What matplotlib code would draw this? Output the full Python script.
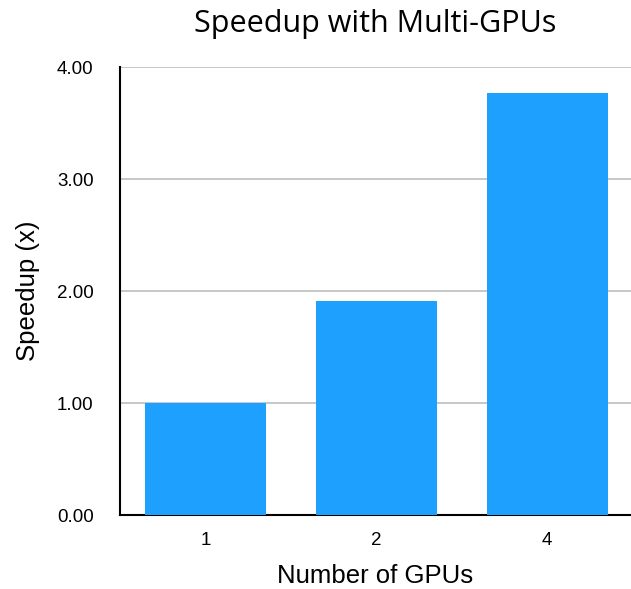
import matplotlib
matplotlib.use("Agg")
import matplotlib.pyplot as plt

gpus = ["1", "2", "4"]
speedup = [1.00, 1.91, 3.77]

plt.rcParams['font.family'] = ['Liberation Sans', 'DejaVu Sans']

fig = plt.figure(figsize=(6.31, 5.89), dpi=100)
ax = fig.add_axes([120/631, 1-515/589, 511/631, (515-67.3)/589])

x = range(len(gpus))
ax.bar(x, speedup, width=0.71, color="#1EA1FE", zorder=3)

ax.set_xlim(-0.5, 2.49)
ax.set_ylim(0, 4)
ax.set_yticks([0, 1, 2, 3, 4])
ax.set_yticklabels(["%.2f" % v for v in [0, 1, 2, 3, 4]], fontsize=13.5)
ax.set_xticks(list(x))
ax.set_xticklabels(gpus, fontsize=13.5)
ax.tick_params(axis="y", length=0, pad=19)
ax.tick_params(axis="x", length=0, pad=12)
ax.yaxis.grid(True, color="#BDBDBD", linewidth=1.2, zorder=0)

for s in ["top", "right"]:
    ax.spines[s].set_visible(False)
ax.spines["left"].set_linewidth(1.5)
ax.spines["bottom"].set_linewidth(1.5)

ax.set_xlabel("Number of GPUs", fontsize=18.5, labelpad=11)
ax.set_ylabel("Speedup (x)", fontsize=18.5, labelpad=12)
fig.text(375/631, 1-24/589, "Speedup with Multi-GPUs", fontsize=22,
         ha="center", va="center", family=["Open Sans", "DejaVu Sans"])

fig.savefig("out.png", dpi=100)
